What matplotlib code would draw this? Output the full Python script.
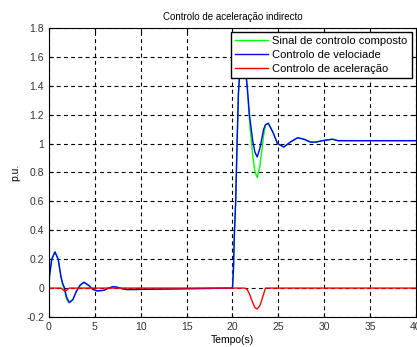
import matplotlib
matplotlib.use("Agg")
import matplotlib.pyplot as plt
from matplotlib.ticker import MultipleLocator

plt.rcParams['font.family'] = ['Liberation Sans', 'DejaVu Sans']

# time samples (s)
tempo = [0.0, 0.05, 0.3, 0.65, 1.0, 1.3, 1.5, 1.7, 1.9, 2.2, 2.6, 3.0, 3.4, 3.8,
         4.3, 4.8, 5.3, 6.0, 6.5, 7.0, 7.5, 8.0, 8.5, 9.0,
         19.95, 20.0, 20.1, 20.2, 20.35, 20.5, 20.65, 20.85, 21.1, 21.35, 21.6,
         21.85, 22.2, 22.45, 22.7, 23.0, 23.4, 23.6, 23.9, 24.4, 24.9, 25.6,
         26.3, 27.1, 27.8, 28.5, 29.1, 29.8, 30.9, 31.5, 40.0]

velocidade = [0.0, 0.08, 0.2, 0.25, 0.2, 0.08, 0.03, 0.0, -0.06, -0.1, -0.08, -0.02, 0.02, 0.04,
              0.02, -0.01, -0.02, -0.015, 0.0, 0.01, 0.005, -0.005, -0.01, -0.01,
              0.0, 0.0, 0.12, 0.36, 0.6, 1.0, 1.35, 1.55, 1.62, 1.55, 1.4,
              1.2, 1.02, 0.94, 0.907, 0.97, 1.1, 1.13, 1.14, 1.08, 1.0, 0.976,
              1.01, 1.04, 1.03, 1.01, 1.01, 1.02, 1.03, 1.02, 1.02]

aceleracao = [0.0, 0.0, 0.0, 0.0, 0.0, 0.0, -0.01, -0.02, -0.015, 0.0, 0.0, 0.0, 0.0, 0.0,
              0.0, 0.0, 0.0, 0.0, 0.0, 0.0, 0.0, 0.0, 0.0, 0.0,
              0.0, 0.0, 0.0, 0.0, 0.0, 0.0, 0.0, 0.0, 0.0, 0.0, -0.01,
              -0.04, -0.1, -0.135, -0.145, -0.12, -0.04, 0.0, 0.0, 0.0, 0.0, 0.0,
              0.0, 0.0, 0.0, 0.0, 0.0, 0.0, 0.0, 0.0, 0.0]

composto = [0.0, 0.08, 0.2, 0.25, 0.2, 0.08, 0.02, -0.02, -0.075, -0.1, -0.08, -0.02, 0.02, 0.04,
            0.02, -0.01, -0.02, -0.015, 0.0, 0.01, 0.005, -0.005, -0.01, -0.01,
            0.0, 0.0, 0.12, 0.36, 0.6, 1.0, 1.35, 1.55, 1.62, 1.55, 1.39,
            1.16, 0.92, 0.805, 0.765, 0.85, 1.06, 1.13, 1.14, 1.08, 1.0, 0.976,
            1.01, 1.04, 1.03, 1.01, 1.01, 1.02, 1.03, 1.02, 1.02]

fig = plt.figure(figsize=(4.17, 3.47), dpi=100)
ax = fig.add_axes([0.1175, 0.0865, 0.88, 0.833])

ax.plot(tempo, composto, color='#00ff00', linewidth=1.0, label='Sinal de controlo composto')
ax.plot(tempo, velocidade, color='#0000ff', linewidth=1.0, label='Controlo de velociade')
ax.plot(tempo, aceleracao, color='#ff0000', linewidth=1.0, label='Controlo de aceleração')

ax.set_xlim(0, 40)
ax.set_ylim(-0.2, 1.8)
ax.xaxis.set_major_locator(MultipleLocator(5))
ax.yaxis.set_major_locator(MultipleLocator(0.2))
ax.set_yticklabels([('%g' % v) for v in ax.get_yticks()])
ax.grid(True, color='black', linestyle=(0, (3.5, 3)), linewidth=0.8)
ax.tick_params(direction='in', top=True, right=True, labelsize=7.5, length=3,
               labelcolor='#333333')
for s in ax.spines.values():
    s.set_linewidth(0.8)

ax.set_title('Controlo de aceleração indirecto', fontsize=7, pad=6)
ax.set_xlabel('Tempo(s)', fontsize=7.5, labelpad=2)
ax.set_ylabel('p.u.', fontsize=7.5, labelpad=4)

ax.legend(loc='upper right', fontsize=8, fancybox=False, framealpha=1, edgecolor='black',
          borderaxespad=0.4, handlelength=3.0, borderpad=0.35, labelspacing=0.35,
          handletextpad=0.4)

fig.savefig('out.png', dpi=100)
